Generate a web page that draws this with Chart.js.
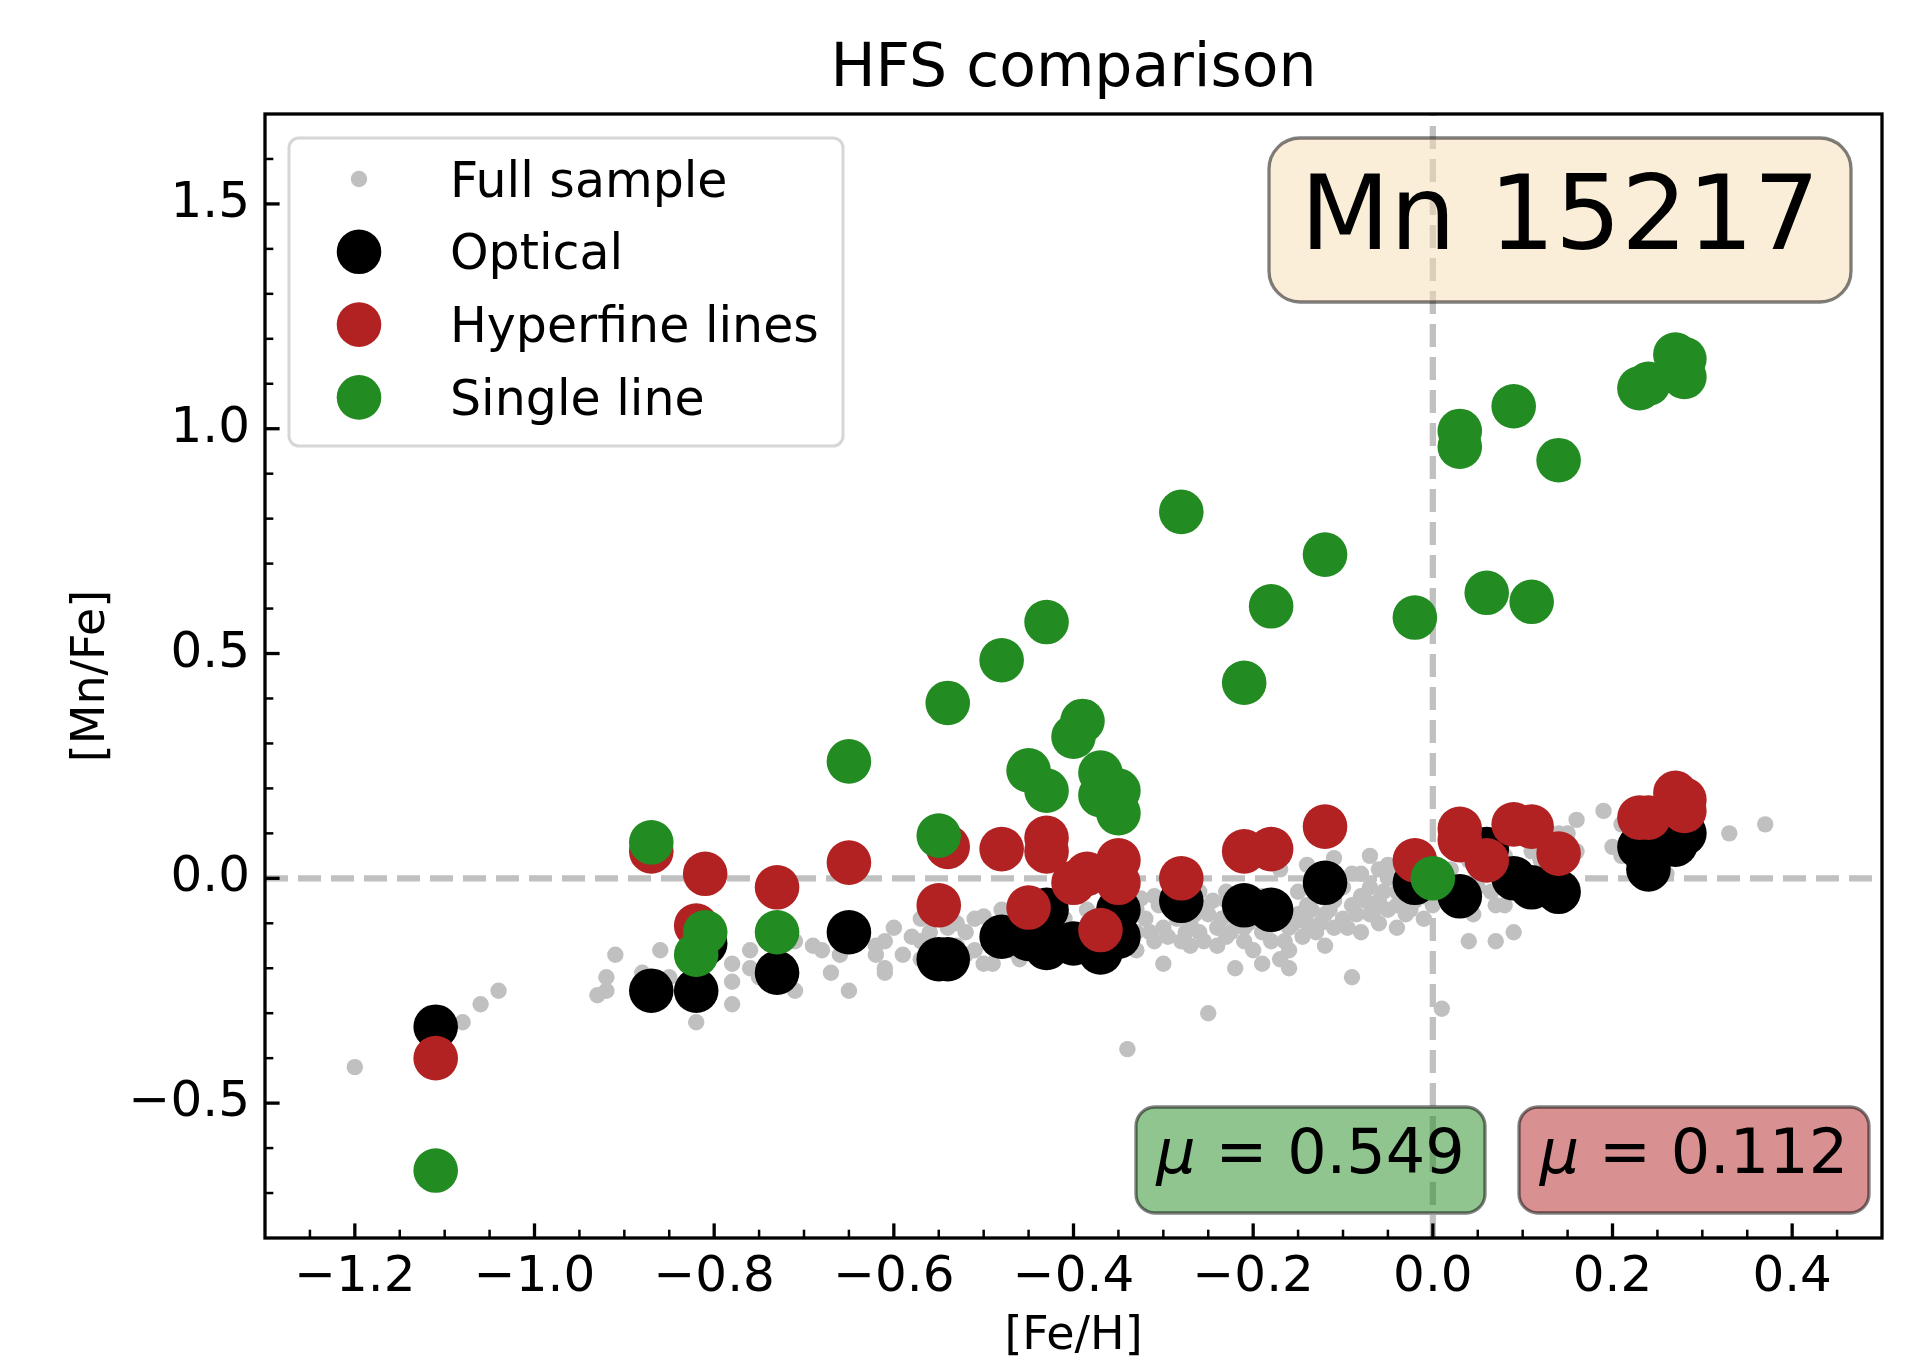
<!DOCTYPE html>
<html>
<head>
<meta charset="utf-8">
<title>HFS comparison</title>
<script src="https://cdn.jsdelivr.net/npm/chart.js@4.4.1/dist/chart.umd.min.js"></script>
<style>
  html, body { margin: 0; padding: 0; background: #fff; }
  #wrap { width: 1921px; height: 1358px; }
</style>
</head>
<body>
<div id="wrap"><canvas id="chart" width="1921" height="1358"></canvas></div>
<script>
// Single line (green)
const singleFeH = [-1.11, -0.87, -0.81, -0.82, -0.73, -0.65, -0.55, -0.54, -0.48, -0.43,
                   -0.45, -0.43, -0.40, -0.39, -0.37, -0.37, -0.35, -0.35, -0.28, -0.21,
                   -0.18, -0.12, -0.02, 0.00, 0.03, 0.03, 0.06, 0.09, 0.11, 0.14,
                   0.23, 0.24, 0.27, 0.28, 0.28];
const singleMnFe = [-0.65, 0.08, -0.12, -0.17, -0.12, 0.26, 0.095, 0.39, 0.485, 0.57,
                    0.24, 0.195, 0.315, 0.35, 0.235, 0.185, 0.195, 0.145, 0.815, 0.435,
                    0.605, 0.72, 0.58, 0.00, 0.995, 0.96, 0.635, 1.05, 0.615, 0.93,
                    1.09, 1.10, 1.165, 1.155, 1.115];

// Hyperfine lines (red)
const hfsFeH = [-1.11, -0.87, -0.81, -0.82, -0.73, -0.65, -0.55, -0.54, -0.48, -0.45,
                -0.43, -0.43, -0.40, -0.385, -0.35, -0.35, -0.37, -0.28, -0.21, -0.18,
                -0.12, -0.02, 0.03, 0.03, 0.06, 0.09, 0.11, 0.14, 0.23, 0.24,
                0.27, 0.28, 0.28];
const hfsMnFe = [-0.40, 0.06, 0.01, -0.105, -0.02, 0.035, -0.06, 0.07, 0.065, -0.065,
                 0.09, 0.06, -0.01, 0.01, 0.04, -0.01, -0.115, 0.00, 0.06, 0.065,
                 0.115, 0.04, 0.11, 0.085, 0.04, 0.12, 0.115, 0.055, 0.135, 0.135,
                 0.19, 0.175, 0.15];

// Optical (black)
const optFeH = [-1.11, -0.87, -0.82, -0.81, -0.73, -0.65, -0.55, -0.54, -0.48, -0.45,
                -0.43, -0.43, -0.40, -0.37, -0.35, -0.35, -0.28, -0.21, -0.18, -0.12,
                -0.02, 0.03, 0.06, 0.09, 0.11, 0.14, 0.23, 0.24, 0.27, 0.28];
const optMnFe = [-0.33, -0.25, -0.25, -0.145, -0.21, -0.12, -0.18, -0.18, -0.13, -0.135,
                 -0.155, -0.07, -0.145, -0.165, -0.07, -0.13, -0.05, -0.06, -0.07, -0.01,
                 -0.01, -0.04, 0.065, 0.00, -0.02, -0.03, 0.07, 0.02, 0.075, 0.10];

// Full sample (grey)
const fullFeH = [
  -1.20, -1.08, -1.06, -1.04, -0.93, -0.92, -0.92, -0.91, -0.88, -0.86,
  -0.85, -0.82, -0.78, -0.78, -0.78, -0.76, -0.76, -0.75, -0.71, -0.71,
  -0.69, -0.68, -0.67, -0.66, -0.65, -0.62, -0.62, -0.61, -0.61, -0.61,
  -0.60, -0.59, -0.57, -0.57, -0.57, -0.56, -0.54, -0.52, -0.51, -0.50,
  -0.51, -0.50, -0.49, -0.48, -0.46, -0.53, -0.47, -0.46, -0.44, -0.44,
  -0.42, -0.41, -0.40, -0.38, -0.37, -0.36, -0.34, -0.34, -0.33, -0.325,
  -0.31, -0.31, -0.30, -0.32, -0.30, -0.29, -0.28, -0.27, -0.27, -0.26,
  -0.26, -0.25, -0.25, -0.24, -0.24, -0.23, -0.23, -0.23, -0.26, -0.22,
  -0.22, -0.21, -0.21, -0.20, -0.20, -0.19, -0.19, -0.19, -0.18, -0.18,
  -0.17, -0.17, -0.17, -0.16, -0.16, -0.16, -0.15, -0.15, -0.14, -0.14,
  -0.14, -0.13, -0.13, -0.12, -0.12, -0.11, -0.11, -0.11, -0.10, -0.10,
  -0.09, -0.09, -0.09, -0.08, -0.08, -0.08, -0.07, -0.07, -0.07, -0.06,
  -0.06, -0.06, -0.05, -0.05, -0.05, -0.04, -0.04, -0.04, -0.03, -0.03,
  -0.02, -0.02, -0.01, -0.01, 0.00, 0.01, 0.01, 0.02, 0.04, 0.04,
  0.05, 0.07, 0.07, 0.08, 0.08, 0.09, 0.10, 0.11, 0.12, 0.13,
  0.14, 0.15, 0.16, 0.16, 0.19, 0.20, 0.21, 0.21, 0.22, 0.25,
  0.26, 0.29, 0.33, 0.37,
  -0.58, -0.555, -0.53, -0.52, -0.49, -0.47, -0.43, -0.42, -0.39, -0.385,
  -0.36, -0.35, -0.33, -0.33, -0.315, -0.305, -0.295, -0.285, -0.275, -0.265,
  -0.255, -0.245, -0.235, -0.225, -0.215, -0.205, -0.195, -0.185, -0.175, -0.165,
  -0.155, -0.145, -0.135, -0.125, -0.125, -0.115, -0.105, -0.095, -0.085, -0.075,
  -0.065, -0.055, -0.045, -0.035, -0.025, -0.015, -0.005, 0.015, 0.025, 0.045,
  0.055, 0.065, 0.085, 0.105, 0.12, 0.135
];
const fullMnFe = [
  -0.42, -0.32, -0.28, -0.25, -0.26, -0.25, -0.22, -0.17, -0.21, -0.16,
  -0.22, -0.32, -0.19, -0.23, -0.28, -0.16, -0.20, -0.22, -0.14, -0.25,
  -0.15, -0.16, -0.21, -0.17, -0.25, -0.15, -0.17, -0.14, -0.20, -0.21,
  -0.11, -0.17, -0.09, -0.14, -0.18, -0.12, -0.11, -0.12, -0.09, -0.085,
  -0.16, -0.19, -0.19, -0.07, -0.18, -0.15, -0.10, -0.13, -0.10, -0.15,
  -0.12, -0.09, -0.16, -0.11, -0.08, -0.14, -0.10, -0.38, -0.16, -0.045,
  -0.04, -0.14, -0.19, -0.09, -0.11, -0.07, -0.14, -0.15, -0.10, -0.06,
  -0.12, -0.30, -0.08, -0.15, -0.11, -0.05, -0.13, -0.03, -0.03, -0.20,
  -0.09, -0.14, -0.11, -0.16, -0.07, -0.19, -0.12, -0.04, -0.14, -0.09,
  -0.18, 0.02, -0.05, -0.16, -0.20, -0.11, -0.08, -0.03, 0.03, -0.10,
  -0.06, -0.12, -0.02, -0.15, -0.08, 0.045, -0.05, -0.11, -0.02, -0.09,
  -0.22, -0.06, 0.01, -0.12, -0.04, 0.01, 0.05, -0.08, -0.02, -0.10,
  0.02, -0.05, 0.03, -0.07, 0.00, -0.11, -0.03, -0.06, -0.08, 0.02,
  -0.05, -0.02, -0.09, -0.04, -0.06, -0.29, -0.03, 0.02, -0.14, 0.04,
  -0.02, -0.14, -0.06, -0.06, 0.05, -0.12, 0.02, 0.06, 0.08, 0.03,
  0.10, 0.10, 0.13, 0.06, 0.15, 0.07, 0.12, 0.05, 0.09, 0.04,
  0.01, 0.08, 0.10, 0.12,
  -0.13, -0.15, -0.10, -0.17, -0.11, -0.16, -0.11, -0.17, -0.13, -0.07,
  -0.10, -0.16, -0.12, -0.07, -0.12, -0.06, -0.13, -0.09, -0.12, -0.08,
  -0.14, -0.05, -0.09, -0.12, -0.06, -0.10, -0.08, -0.11, -0.07, -0.14,
  -0.10, -0.13, -0.07, -0.04, -0.10, -0.07, 0.00, -0.11, -0.08, -0.05,
  -0.07, -0.03, 0.01, -0.05, -0.07, -0.01, -0.03, 0.00, -0.05, -0.08,
  0.03, -0.03, 0.02, 0.00, 0.04, 0.07
];

// tick labels and annotations
const xTickLabels = [-1.2, -1.0, -0.8, -0.6, -0.4, -0.2, 0.0, 0.2, 0.4];
const yTickLabels = [-0.5, 0.0, 0.5, 1.0, 1.5];
const lineName = 'Mn 15217';
const muSingle = 0.549;
const muHfs = 0.112;

const FONT = '"DejaVu Sans", sans-serif';
const GREEN = '#228b22';
const RED = '#b22222';
const GREY = '#c0c0c0';

function pts(xs, ys) { return xs.map((x, i) => ({ x: x, y: ys[i] })); }

function isMajor(v, list) { return list.some(t => Math.abs(t - v) < 1e-6); }

function fmt(v, list) {
  if (!isMajor(v, list)) return '';
  const s = (Math.abs(v) < 1e-9 ? 0 : v).toFixed(1);
  return s.replace('-', '\u2212');
}

function roundBox(ctx, x, y, w, h, r) {
  ctx.beginPath();
  ctx.moveTo(x + r, y);
  ctx.arcTo(x + w, y, x + w, y + h, r);
  ctx.arcTo(x + w, y + h, x, y + h, r);
  ctx.arcTo(x, y + h, x, y, r);
  ctx.arcTo(x, y, x + w, y, r);
  ctx.closePath();
}

// mu label: italic mu followed by upright text, centred in the box
function muText(ctx, cx, base, value) {
  const rest = ' = ' + value.toFixed(3);
  ctx.font = 'italic 62px ' + FONT;
  const w1 = ctx.measureText('\u03bc').width;
  ctx.font = '62px ' + FONT;
  const w2 = ctx.measureText(rest).width;
  const x0 = cx - (w1 + w2) / 2;
  ctx.textAlign = 'left';
  ctx.textBaseline = 'alphabetic';
  ctx.font = 'italic 62px ' + FONT;
  ctx.fillText('\u03bc', x0, base);
  ctx.font = '62px ' + FONT;
  ctx.fillText(rest, x0 + w1, base);
}

const axesDecor = {
  id: 'axesDecor',
  afterDatasetsDraw(chart) {
    const ctx = chart.ctx;
    const a = chart.chartArea;
    const xs = chart.scales.x, ys = chart.scales.y;
    ctx.save();
    ctx.strokeStyle = '#000';

    // inward ticks on bottom and left
    xs.ticks.forEach(t => {
      if (t.value <= xs.min + 1e-9 || t.value >= xs.max - 1e-9) return;
      const major = isMajor(t.value, xTickLabels);
      const p = xs.getPixelForValue(t.value);
      ctx.lineWidth = major ? 3.3 : 2.5;
      ctx.beginPath();
      ctx.moveTo(p, a.bottom);
      ctx.lineTo(p, a.bottom - (major ? 14.6 : 8.3));
      ctx.stroke();
    });
    ys.ticks.forEach(t => {
      if (t.value <= ys.min + 1e-9 || t.value >= ys.max - 1e-9) return;
      const major = isMajor(t.value, yTickLabels);
      const p = ys.getPixelForValue(t.value);
      ctx.lineWidth = major ? 3.3 : 2.5;
      ctx.beginPath();
      ctx.moveTo(a.left, p);
      ctx.lineTo(a.left + (major ? 14.6 : 8.3), p);
      ctx.stroke();
    });

    // spines
    ctx.lineWidth = 3.3;
    ctx.strokeRect(a.left, a.top, a.right - a.left, a.bottom - a.top);

    // element box
    roundBox(ctx, 1269, 138, 582, 164, 31);
    ctx.fillStyle = 'rgba(245,222,179,0.5)';
    ctx.fill();
    ctx.lineWidth = 3.3;
    ctx.strokeStyle = 'rgba(0,0,0,0.5)';
    ctx.stroke();
    ctx.fillStyle = '#000';
    ctx.font = '104px ' + FONT;
    ctx.textAlign = 'center';
    ctx.textBaseline = 'alphabetic';
    ctx.fillText(lineName, 1560, 249);

    // mean boxes
    roundBox(ctx, 1136, 1107, 349, 106, 19);
    ctx.fillStyle = 'rgba(34,139,34,0.5)';
    ctx.fill();
    ctx.stroke();
    roundBox(ctx, 1519, 1107, 350, 106, 19);
    ctx.fillStyle = 'rgba(178,34,34,0.5)';
    ctx.fill();
    ctx.stroke();
    ctx.fillStyle = '#000';
    muText(ctx, 1310.5, 1173, muSingle);
    muText(ctx, 1694, 1173, muHfs);

    // legend
    roundBox(ctx, 289, 138, 554, 308, 10);
    ctx.fillStyle = 'rgba(255,255,255,0.8)';
    ctx.fill();
    ctx.lineWidth = 3;
    ctx.strokeStyle = '#d6d6d6';
    ctx.stroke();
    const order = ['Full sample', 'Optical', 'Hyperfine lines', 'Single line'];
    ctx.font = '49px ' + FONT;
    ctx.textAlign = 'left';
    ctx.textBaseline = 'alphabetic';
    order.forEach((name, i) => {
      const ds = chart.data.datasets.find(d => d.label === name);
      const cy = 179 + i * 72.8;
      ctx.fillStyle = ds.backgroundColor;
      ctx.beginPath();
      ctx.arc(359, cy, ds.pointRadius, 0, Math.PI * 2);
      ctx.fill();
      ctx.fillStyle = '#000';
      ctx.fillText(name, 450, cy + 17.5);
    });
    ctx.restore();
  }
};

const bigR = 22.3;
const dashed = { borderColor: GREY, borderWidth: 6.25, borderDash: [23, 10], pointRadius: 0, fill: false, tension: 0 };

new Chart(document.getElementById('chart'), {
  type: 'scatter',
  data: {
    datasets: [
      { label: 'Single line', data: pts(singleFeH, singleMnFe), backgroundColor: GREEN, pointRadius: bigR, borderWidth: 0, order: 0 },
      { label: 'Hyperfine lines', data: pts(hfsFeH, hfsMnFe), backgroundColor: RED, pointRadius: bigR, borderWidth: 0, order: 1 },
      { label: 'Optical', data: pts(optFeH, optMnFe), backgroundColor: '#000000', pointRadius: bigR, borderWidth: 0, order: 2 },
      Object.assign({ type: 'line', label: 'zero Mn', data: [{ x: -1.3, y: 0 }, { x: 0.5, y: 0 }], order: 3 }, dashed),
      Object.assign({ type: 'line', label: 'zero Fe', data: [{ x: 0, y: -0.8 }, { x: 0, y: 1.7 }], order: 3 }, dashed),
      { label: 'Full sample', data: pts(fullFeH, fullMnFe), backgroundColor: GREY, pointRadius: 8.2, borderWidth: 0, order: 4 }
    ]
  },
  options: {
    responsive: false,
    animation: false,
    devicePixelRatio: 1,
    events: [],
    layout: { padding: { left: 0, right: 39, top: 0, bottom: 0 } },
    plugins: {
      legend: { display: false },
      tooltip: { enabled: false },
      title: {
        display: true, text: 'HFS comparison', fullSize: false, color: '#000',
        font: { size: 60, weight: 'normal', family: FONT },
        padding: { top: 34, bottom: 8 }
      }
    },
    scales: {
      x: {
        type: 'linear', min: -1.3, max: 0.5,
        grid: { display: false, drawTicks: false }, border: { display: false },
        ticks: {
          stepSize: 0.05, autoSkip: false, maxRotation: 0, padding: 10, color: '#000',
          font: { size: 50, family: FONT },
          callback: v => fmt(v, xTickLabels)
        },
        title: { display: true, text: '[Fe/H]', color: '#000', font: { size: 46, family: FONT, lineHeight: 0.9 }, padding: { top: 0, bottom: 0 } },
        afterFit: s => { s.height = 120; }
      },
      y: {
        type: 'linear', min: -0.8, max: 1.7,
        grid: { display: false, drawTicks: false }, border: { display: false },
        ticks: {
          stepSize: 0.1, autoSkip: false, padding: 15, color: '#000',
          font: { size: 50, family: FONT },
          callback: v => fmt(v, yTickLabels)
        },
        title: { display: true, text: '[Mn/Fe]', color: '#000', font: { size: 46, family: FONT, lineHeight: 1 }, padding: { top: 69, bottom: 0 } },
        afterFit: s => { s.width = 265; }
      }
    }
  },
  plugins: [axesDecor]
});
</script>
</body>
</html>
